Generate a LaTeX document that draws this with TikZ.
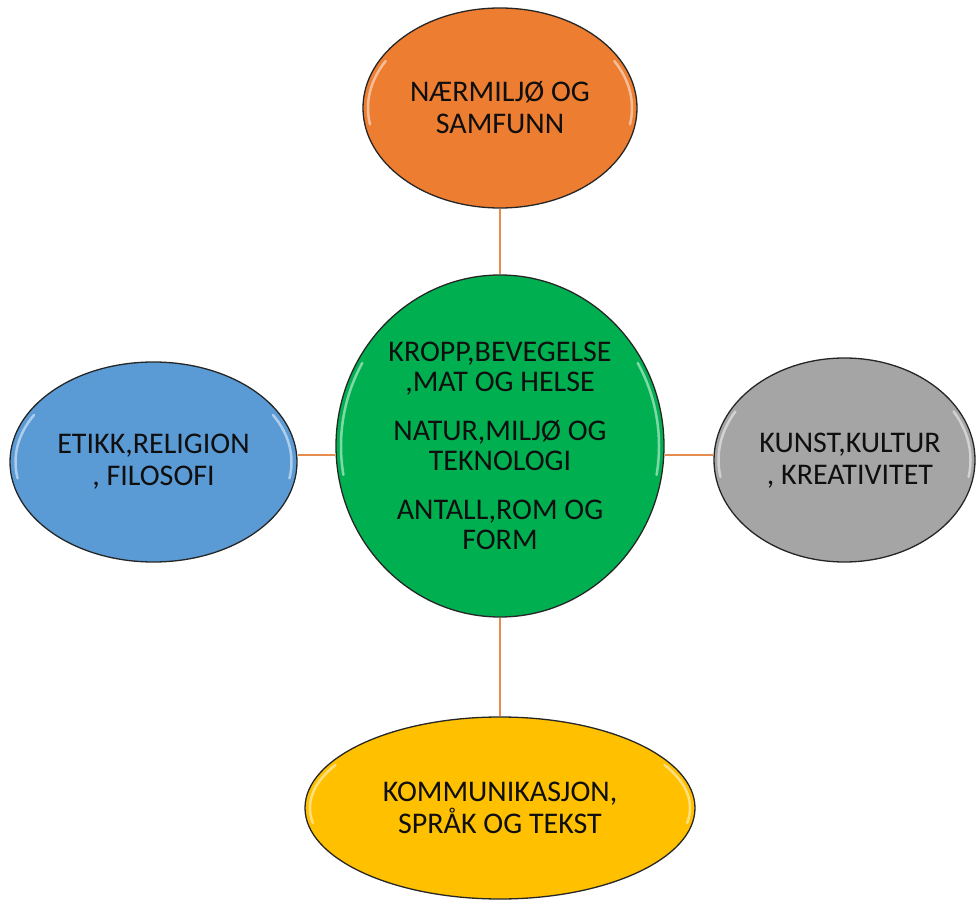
\documentclass[tikz,border=0pt]{standalone}
\usepackage{fontspec}
\setmainfont{Carlito}
\usetikzlibrary{shapes.geometric}
\definecolor{cOrange}{RGB}{237,125,49}
\definecolor{cGreen}{RGB}{0,176,80}
\definecolor{cBlue}{RGB}{91,155,213}
\definecolor{cGray}{RGB}{165,165,165}
\definecolor{cYellow}{RGB}{255,192,0}
\definecolor{cLink}{RGB}{230,140,80}
\definecolor{cText}{RGB}{15,15,15}
\begin{document}
\begin{tikzpicture}[x=1pt,y=-1pt,
  bubble/.style={ellipse, draw=black!85, line width=1.3pt, inner sep=0pt, align=center,
    font=\fontsize{30}{32}\selectfont, text=cText},
  link/.style={draw=cLink, line width=1.6pt},
  hl/.style={draw=white, line width=2.5pt, opacity=0.5, line cap=round}]
\useasboundingbox (0,0) rectangle (978,901);

\node[bubble, fill=cOrange, minimum width=274pt, minimum height=200pt] (top) at (500,108)
  {NÆRMILJØ OG\\SAMFUNN};
\node[bubble, fill=cGreen, minimum width=328pt, minimum height=342pt,
  font=\fontsize{30}{30}\selectfont] (mid) at (500,446)
  {KROPP,BEVEGELSE\\,MAT OG HELSE\\[19pt]NATUR,MILJØ OG\\TEKNOLOGI\\[19pt]ANTALL,ROM OG\\FORM};
\node[bubble, fill=cBlue, minimum width=287pt, minimum height=200pt] (left) at (153.5,462)
  {ETIKK,RELIGION\\, FILOSOFI};
\node[bubble, fill=cGray, minimum width=261pt, minimum height=204pt] (right) at (844.5,460) {};
\node[font=\fontsize{30}{32}\selectfont, text=cText, align=center] (rightlabel) at (850,461)
  {KUNST,KULTUR\\, KREATIVITET};
\node[bubble, fill=cYellow, minimum width=390pt, minimum height=182pt] (bottom) at (500,808)
  {KOMMUNIKASJON,\\SPRÅK OG TEKST};

% highlights
\foreach \n/\a/\b in {top/132/94, mid/159/166, left/138/94, right/126/97, bottom/190/86}{
  \draw[hl] (\n.center) ++(150:\a pt and \b pt) arc[start angle=150, end angle=190, x radius=\a pt, y radius=\b pt];
  \draw[hl] (\n.center) ++(-10:\a pt and \b pt) arc[start angle=-10, end angle=30, x radius=\a pt, y radius=\b pt];
}

\coordinate (hy) at (0,455);
\draw[link] (top) -- (mid);
\draw[link] (mid) -- (bottom);
\draw[link] (left.east |- hy) -- (mid.west |- hy);
\draw[link] (mid.east |- hy) -- (right.west |- hy);
\end{tikzpicture}
\end{document}
